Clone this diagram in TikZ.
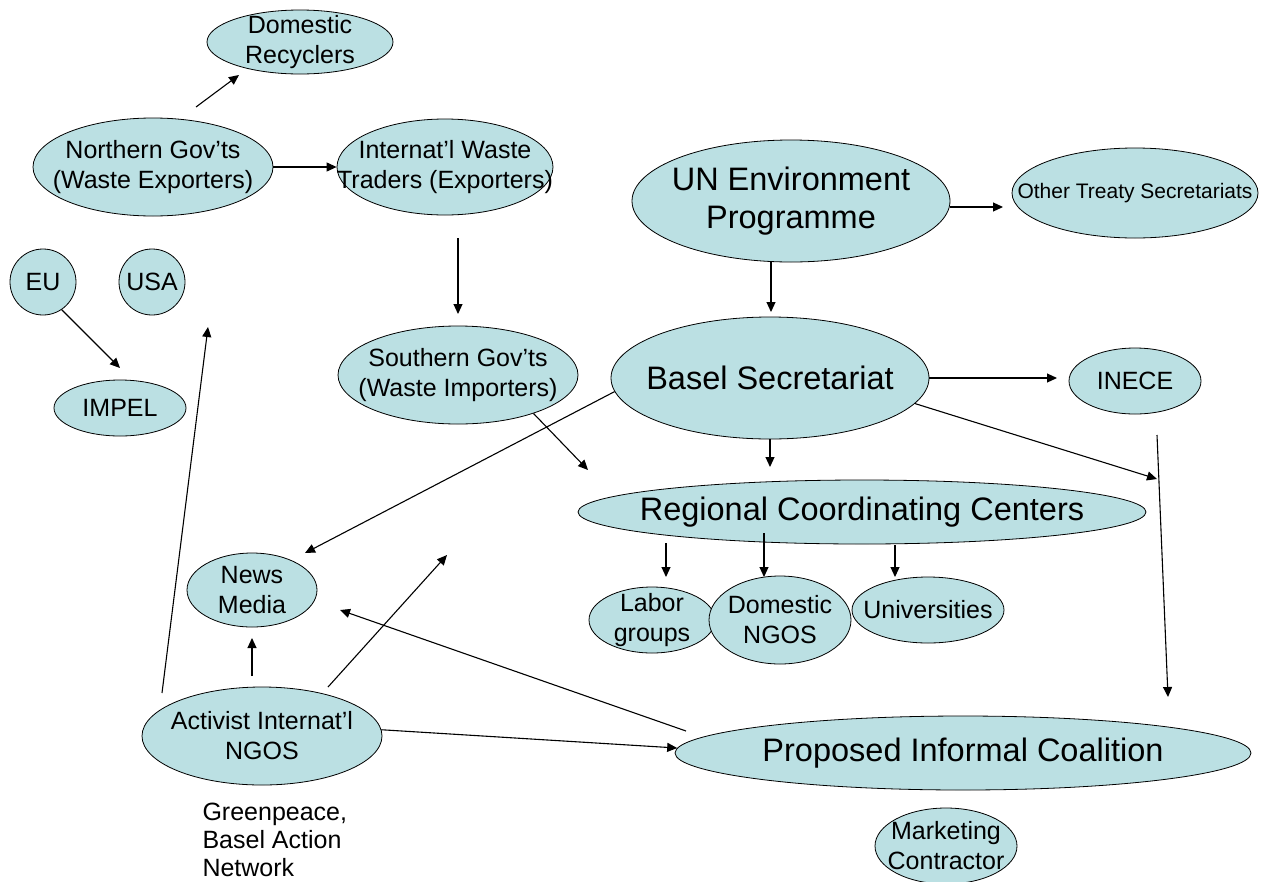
\documentclass[tikz,border=0pt]{standalone}
\usepackage{fontspec}
\setmainfont{Liberation Sans}
\usetikzlibrary{shapes.geometric,arrows.meta}
\definecolor{bubfill}{RGB}{187,224,227}

\begin{document}
\begin{tikzpicture}
  [x=1pt,y=-1pt,
   bub/.style 2 args={ellipse,draw,fill=bubfill,line width=0.8pt,minimum width=#1pt,minimum height=#2pt,inner sep=0pt},
   every label/.style={align=center,font=\fontsize{25}{30}\selectfont},
   big/.style={font=\fontsize{32.5}{38}\selectfont},
   arr/.style={-{Triangle[length=10pt,width=9pt]},line width=1.1pt}]
  \useasboundingbox (0,0) rectangle (1265,881);

  \node[bub={186}{64},label={center:{Domestic\\Recyclers}}] (rec) at (300,42) {};
  \node[bub={240}{98},label={center:{Northern Gov'ts\\(Waste Exporters)}}] (nor) at (153,167) {};
  \node[bub={216}{96},label={center:{Internat'l Waste\\Traders (Exporters)}}] (tra) at (445,167) {};
  \node[bub={318}{122},label={[big]center:{UN Environment\\Programme}}] (un) at (791,201) {};
  \node[bub={246}{90},label={[font=\fontsize{21}{25}\selectfont]center:{Other Treaty Secretariats}}] (oth) at (1135,193) {};
  \node[bub={66}{66},label={center:EU}] (eu) at (43,282) {};
  \node[bub={66}{66},label={center:USA}] (usa) at (152,282) {};
  \node[bub={132}{56},label={center:IMPEL}] (imp) at (120,408) {};
  \node[bub={240}{98},label={center:{Southern Gov'ts\\(Waste Importers)}}] (sou) at (458,375) {};
  \node[bub={318}{122},label={[big]center:{Basel Secretariat}}] (bas) at (770,378) {};
  \node[bub={132}{66},label={center:INECE}] (ine) at (1135,381) {};
  \node[bub={568}{64},label={[big]center:{Regional Coordinating Centers}}] (reg) at (862,512) {};
  \node[bub={126}{66},label={center:{Labor\\groups}}] (lab) at (652,620) {};
  \node[bub={142}{88},label={center:{Domestic\\NGOS}}] (dom) at (780,620) {};
  \node[bub={152}{66},label={center:{Universities}}] (uni) at (928,610) {};
  \node[bub={130}{74},label={center:{News\\Media}}] (new) at (252,590) {};
  \node[bub={240}{98},label={center:{Activist Internat'l\\NGOS}}] (act) at (262,736) {};
  \node[bub={576}{74},label={[big]center:{Proposed Informal Coalition}}] (pro) at (963,753) {};
  \node[bub={142}{76},label={center:{Marketing\\Contractor}}] (mkt) at (946,846) {};
  \node[align=left,anchor=west,font=\fontsize{25}{28}\selectfont] (grp) at (199,840) {Greenpeace,\\Basel Action\\Network};

  \coordinate (norup) at (196,107);  \coordinate (recin) at (239,75);
  \coordinate (traout) at (458,238); \coordinate (souin) at (458,314);
  \coordinate (unout) at (950,207);  \coordinate (othin) at (1003,207);
  \coordinate (undn) at (771,262);   \coordinate (basin) at (771,312);
  \coordinate (inein) at (1057,378);
  \coordinate (jn) at (1157,479);
  \coordinate (inedn) at (1157,435); \coordinate (coain) at (1168,697);
  \coordinate (regin) at (588,470);
  \coordinate (newin) at (305,553);
  \coordinate (regtop) at (770,467);
  \coordinate (impin) at (120,368);
  \coordinate (actul) at (162,693);  \coordinate (usain) at (208,327);
  \coordinate (actup) at (252,676);  \coordinate (newdn) at (252,638);
  \coordinate (actur) at (328,687);  \coordinate (midin) at (447,555);
  \coordinate (proul) at (686,731);  \coordinate (newr) at (340,610);
  \coordinate (reglab) at (666,543); \coordinate (labin) at (666,577);
  \coordinate (regdom) at (764,533); \coordinate (domin) at (764,577);
  \coordinate (reguni) at (895,545); \coordinate (uniin) at (895,577);

  \foreach \from/\to in {norup/recin,nor.east/tra.west,traout/souin,unout/othin,undn/basin,
      bas.east/inein,bas.-10/jn,inedn/coain,sou.-27/regin,bas.185/newin,bas.south/regtop,
      eu.-56/impin,actul/usain,actup/newdn,actur/midin,act.3/pro.179,proul/newr,
      reglab/labin,regdom/domin,reguni/uniin}
    \draw[arr] (\from) -- (\to);

\end{tikzpicture}
\end{document}
